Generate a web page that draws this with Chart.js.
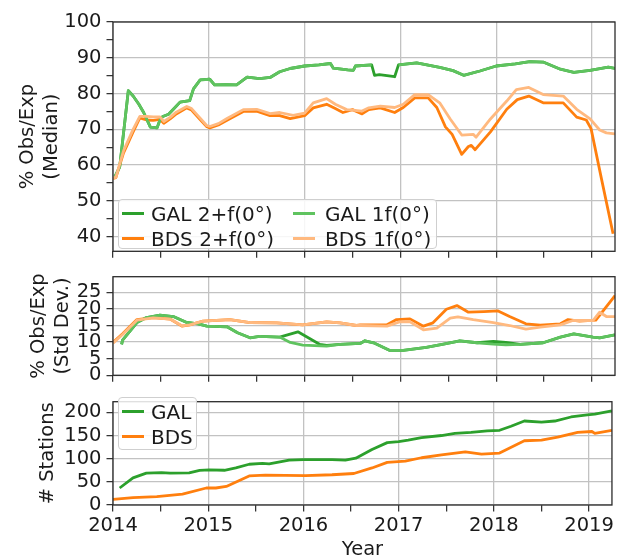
<!DOCTYPE html>
<html><head><meta charset="utf-8">
<script src="https://cdn.jsdelivr.net/npm/chart.js@4"></script>
<style>
html,body{margin:0;padding:0;background:#fff;overflow:hidden;}
#wrap{position:relative;width:617px;height:558px;overflow:hidden;font-family:'DejaVu Sans',sans-serif;color:#1a1a1a;}
canvas{position:absolute;left:0;}
.leg{position:absolute;border:1px solid #cfcfcf;border-radius:4px;background:rgba(255,255,255,0.85);box-sizing:border-box;}
.h{position:absolute;height:2.8px;width:22px;}
.t{position:absolute;font-size:20px;line-height:24px;white-space:nowrap;}
</style></head>
<body><div id="wrap">
<canvas id="c1" width="617" height="268" style="top:0px"></canvas>
<canvas id="c2" width="617" height="132" style="top:260px"></canvas>
<canvas id="c3" width="617" height="177" style="top:385px"></canvas>
<div class="leg" style="left:118px;top:199px;width:319px;height:50px;">
  <div class="h" style="left:3px;top:12px;background:#2ca02c"></div><div class="t" style="left:32px;top:1.5px">GAL 2+f(0°)</div>
  <div class="h" style="left:3px;top:37px;background:#ff7f0e"></div><div class="t" style="left:32px;top:26.5px">BDS 2+f(0°)</div>
  <div class="h" style="left:174px;top:12px;background:#5fc35f"></div><div class="t" style="left:206px;top:1.5px">GAL 1f(0°)</div>
  <div class="h" style="left:174px;top:37px;background:#ffb97f"></div><div class="t" style="left:206px;top:26.5px">BDS 1f(0°)</div>
</div>
<div class="leg" style="left:118px;top:397px;width:79px;height:53px;">
  <div class="h" style="left:3px;top:12.4px;background:#2ca02c"></div><div class="t" style="left:32px;top:1.7px">GAL</div>
  <div class="h" style="left:3px;top:37.4px;background:#ff7f0e"></div><div class="t" style="left:32px;top:26.7px">BDS</div>
</div>
</div>
<script>
// ---- tick labels ----
const yearTicks = [2014, 2015, 2016, 2017, 2018, 2019];
const medianTicks = [40, 50, 60, 70, 80, 90, 100];
const stdTicks = [0, 5, 10, 15, 20, 25];
const stationTicks = [0, 50, 100, 150, 200];

// ---- panel 1: % Obs/Exp (Median) ----
const galMedian2f = [[2014.02,56.8],[2014.07,59.5],[2014.16,80.8],[2014.21,79.3],[2014.27,77],[2014.32,74.7],[2014.39,70.6],[2014.46,70.4],[2014.49,72.6],[2014.52,73.6],[2014.58,74.2],[2014.63,75.6],[2014.70,77.6],[2014.80,78.0],[2014.84,81.3],[2014.91,83.8],[2015.01,84.0],[2015.06,82.4],[2015.18,82.5],[2015.29,82.4],[2015.40,84.6],[2015.53,84.2],[2015.64,84.5],[2015.74,86.1],[2015.85,87.0],[2016.0,87.7],[2016.15,88.0],[2016.27,88.4],[2016.30,87.1],[2016.45,86.6],[2016.51,86.5],[2016.53,87.7],[2016.70,88.0],[2016.73,85.1],[2016.78,85.3],[2016.94,84.7],[2016.98,88.0],[2017.17,88.6],[2017.41,87.3],[2017.55,86.4],[2017.66,85.1],[2017.83,86.3],[2018.0,87.7],[2018.2,88.3],[2018.35,88.9],[2018.49,88.8],[2018.67,86.8],[2018.81,85.9],[2018.98,86.5],[2019.17,87.4],[2019.24,87.0]];
const galMedian1f = [[2014.02,56.8],[2014.07,59.5],[2014.16,80.8],[2014.21,79.3],[2014.27,77],[2014.32,74.7],[2014.39,70.6],[2014.46,70.4],[2014.49,72.6],[2014.52,73.6],[2014.58,74.2],[2014.63,75.6],[2014.70,77.6],[2014.80,78.0],[2014.84,81.3],[2014.91,83.8],[2015.01,84.0],[2015.06,82.4],[2015.18,82.5],[2015.29,82.4],[2015.40,84.6],[2015.53,84.2],[2015.64,84.5],[2015.74,86.1],[2015.85,87.0],[2016.0,87.7],[2016.15,88.0],[2016.27,88.4],[2016.30,87.1],[2016.45,86.6],[2016.51,86.5],[2016.53,87.7],[2016.70,88.0],[2016.72,null],[2016.98,88.0],[2017.17,88.6],[2017.41,87.3],[2017.55,86.4],[2017.66,85.1],[2017.83,86.3],[2018.0,87.7],[2018.2,88.3],[2018.35,88.9],[2018.49,88.8],[2018.67,86.8],[2018.81,85.9],[2018.98,86.5],[2019.17,87.4],[2019.24,87.0]];
const bdsMedian2f = [[2014.0,56.3],[2014.03,56.5],[2014.11,63.4],[2014.21,69.3],[2014.28,73.2],[2014.35,72.6],[2014.42,72.5],[2014.49,72.8],[2014.53,71.7],[2014.60,73.0],[2014.66,74.3],[2014.77,76.0],[2014.82,75.4],[2014.90,73.0],[2014.98,70.7],[2015.01,70.4],[2015.10,71.2],[2015.19,72.5],[2015.36,75.0],[2015.50,75.1],[2015.64,73.8],[2015.74,73.8],[2015.85,73.0],[2016.0,73.8],[2016.09,76.0],[2016.23,77.0],[2016.32,75.8],[2016.40,74.7],[2016.50,75.5],[2016.60,74.3],[2016.67,75.5],[2016.79,76.0],[2016.94,74.7],[2017.03,76.1],[2017.15,78.8],[2017.29,78.8],[2017.38,76.1],[2017.47,70.7],[2017.54,68.6],[2017.64,63.0],[2017.71,65.2],[2017.74,65.5],[2017.78,64.3],[2017.94,69.3],[2018.11,75.6],[2018.22,78.3],[2018.34,79.3],[2018.49,77.4],[2018.70,77.4],[2018.84,73.4],[2018.94,72.6],[2018.99,70.2],[2019.10,56.0],[2019.22,40.8]];
const bdsMedian1f = [[2014.0,56.3],[2014.03,56.6],[2014.11,64.0],[2014.21,70.0],[2014.28,73.6],[2014.35,73.6],[2014.42,73.5],[2014.49,73.5],[2014.53,72.2],[2014.60,73.4],[2014.66,74.8],[2014.77,76.4],[2014.82,75.8],[2014.90,73.4],[2014.98,71.0],[2015.01,70.8],[2015.10,71.6],[2015.19,73.0],[2015.36,75.5],[2015.50,75.6],[2015.64,74.4],[2015.74,74.7],[2015.88,73.9],[2016.0,74.5],[2016.09,77.4],[2016.23,78.6],[2016.32,77.0],[2016.44,75.5],[2016.60,75.1],[2016.67,76.0],[2016.79,76.5],[2016.94,76.1],[2017.03,77.0],[2017.15,79.7],[2017.29,79.7],[2017.41,77.4],[2017.52,72.9],[2017.64,68.4],[2017.76,68.6],[2017.79,67.8],[2017.94,72.9],[2018.11,77.9],[2018.21,81.1],[2018.34,81.7],[2018.49,79.7],[2018.70,79.3],[2018.84,75.6],[2018.98,72.9],[2019.08,69.8],[2019.15,69.0],[2019.24,68.7]];

// ---- panel 2: % Obs/Exp (Std Dev.) ----
const galStd2f = [[2014.09,9.3],[2014.10,10.6],[2014.25,15.9],[2014.35,17.4],[2014.49,18.1],[2014.63,17.7],[2014.77,15.9],[2014.89,15.5],[2014.98,14.8],[2015.19,14.6],[2015.30,12.8],[2015.43,11.3],[2015.53,11.7],[2015.74,11.5],[2015.93,13.1],[2016.16,9.3],[2016.23,9.0],[2016.37,9.3],[2016.58,9.6],[2016.63,10.4],[2016.72,9.8],[2016.89,7.5],[2017.03,7.5],[2017.27,8.4],[2017.45,9.4],[2017.62,10.4],[2017.80,9.8],[2017.97,10.2],[2018.10,9.9],[2018.25,9.3],[2018.49,9.8],[2018.67,11.5],[2018.81,12.5],[2019.01,11.5],[2019.08,11.3],[2019.24,12.2]];
const galStd1f = [[2014.09,9.3],[2014.10,10.6],[2014.25,15.9],[2014.35,17.4],[2014.49,18.1],[2014.63,17.7],[2014.77,15.9],[2014.89,15.5],[2014.98,14.8],[2015.19,14.6],[2015.30,12.8],[2015.43,11.3],[2015.53,11.7],[2015.74,11.5],[2015.85,9.9],[2015.98,9.1],[2016.23,8.8],[2016.37,9.3],[2016.58,9.6],[2016.63,10.4],[2016.72,9.8],[2016.89,7.5],[2017.03,7.5],[2017.27,8.4],[2017.45,9.4],[2017.62,10.4],[2017.80,9.8],[2017.97,9.4],[2018.10,9.2],[2018.25,9.3],[2018.49,9.8],[2018.67,11.5],[2018.81,12.5],[2019.01,11.5],[2019.08,11.3],[2019.24,12.2]];
const bdsStd2f = [[2014.0,9.9],[2014.10,12.5],[2014.25,16.8],[2014.42,17.4],[2014.60,16.9],[2014.72,14.8],[2014.80,15.2],[2014.94,16.3],[2015.22,16.8],[2015.43,15.9],[2015.71,15.8],[2015.98,15.2],[2016.23,16.1],[2016.37,15.8],[2016.54,15.0],[2016.58,15.2],[2016.86,15.2],[2016.96,16.8],[2017.10,17.0],[2017.24,14.8],[2017.34,15.8],[2017.48,19.9],[2017.59,21.0],[2017.71,19.0],[2017.87,19.2],[2018.02,19.4],[2018.14,17.7],[2018.31,15.5],[2018.46,15.1],[2018.67,15.5],[2018.75,16.8],[2018.87,16.3],[2019.04,16.6],[2019.24,24.0]];
const bdsStd1f = [[2014.0,9.7],[2014.10,12.3],[2014.25,16.6],[2014.42,17.3],[2014.60,16.9],[2014.72,14.9],[2014.80,15.2],[2014.94,16.3],[2015.22,16.8],[2015.43,15.9],[2015.71,15.8],[2015.98,15.2],[2016.23,16.1],[2016.37,15.8],[2016.54,15.0],[2016.58,15.0],[2016.86,14.8],[2016.99,16.1],[2017.10,16.1],[2017.24,13.7],[2017.38,14.2],[2017.52,17.2],[2017.60,17.6],[2017.76,16.8],[2017.97,15.9],[2018.14,15.0],[2018.31,13.9],[2018.46,14.5],[2018.67,15.2],[2018.80,16.5],[2019.01,16.5],[2019.08,19.0],[2019.15,17.7],[2019.24,17.7]];

// ---- panel 3: # Stations ----
const galStations = [[2014.07,36.7],[2014.21,58.7],[2014.35,68.7],[2014.51,70],[2014.60,68.7],[2014.80,69.3],[2014.91,74.7],[2015.01,76],[2015.17,75],[2015.29,80],[2015.43,88],[2015.57,90],[2015.64,89],[2015.85,96.7],[2016.0,98],[2016.30,98],[2016.44,96.7],[2016.55,101],[2016.72,120],[2016.88,134.7],[2017.0,136.7],[2017.10,140],[2017.24,145.3],[2017.45,150],[2017.59,154.7],[2017.76,156.7],[2017.93,160],[2018.06,161.3],[2018.18,170],[2018.32,181.3],[2018.50,178.7],[2018.64,181.3],[2018.81,190],[2018.98,194.7],[2019.06,196],[2019.24,203.3]];
const bdsStations = [[2014.0,12],[2014.21,16],[2014.46,18],[2014.73,23.3],[2014.98,36.7],[2015.08,36.7],[2015.19,40],[2015.43,62.7],[2015.60,64.7],[2016.02,63.3],[2016.30,65.3],[2016.53,68],[2016.72,80],[2016.88,92],[2017.07,94.7],[2017.24,102],[2017.45,108],[2017.70,114.7],[2017.87,110],[2018.06,112],[2018.32,138.7],[2018.50,140],[2018.67,146.7],[2018.88,156.7],[2019.03,158.7],[2019.06,154.7],[2019.24,161.3]];

const FONT = "'DejaVu Sans', sans-serif";
const TXT = '#1a1a1a';
const GRID = '#c2c2c2';
const AX = '#2b2b2b';
const C_GAL2 = '#2ca02c', C_GAL1 = '#5fc35f', C_BDS2 = '#ff7f0e', C_BDS1 = '#ffb97f';

const pts = a => a.map(([x, y]) => ({x, y}));
const withMinor = (major, step) => {
  const out = [];
  major.forEach((v, i) => { out.push(v); if (i < major.length - 1) out.push(v + step / 2); });
  return out;
};

const boxPlugin = {
  id: 'box',
  afterDraw(chart) {
    const {ctx, chartArea: a} = chart;
    ctx.save();
    ctx.strokeStyle = AX; ctx.lineWidth = 1.3;
    ctx.strokeRect(a.left, a.top, a.right - a.left, a.bottom - a.top);
    ctx.restore();
  }
};

function xScale(showLabels) {
  return {
    type: 'linear', min: 2014, max: 2019.24,
    afterBuildTicks(s) { s.ticks = withMinor(yearTicks, 1).map(v => ({value: v})); },
    afterFit(s) { s.height = showLabels ? 57 : 10; },
    ticks: {display: showLabels, autoSkip: false, maxRotation: 0, minRotation: 0, padding: 3, color: TXT,
      font: {family: FONT, size: 19.5},
      callback: v => yearTicks.includes(v) ? String(v) : ''},
    grid: {color: c => (c.tick && yearTicks.includes(c.tick.value)) ? GRID : 'rgba(0,0,0,0)',
      lineWidth: 1.3, tickColor: AX, tickLength: 6.5, tickWidth: 1.2},
    border: {display: false},
    title: showLabels ? {display: true, text: 'Year', color: TXT, font: {family: FONT, size: 19.5, lineHeight: 1.23}, padding: {top: 0, bottom: 0}} : {display: false}
  };
}

function yScale(min, max, major, minorStep, titleText, titlePad) {
  return {
    type: 'linear', min, max,
    afterBuildTicks(s) {
      const vals = minorStep ? withMinor(major, minorStep) : major.slice();
      s.ticks = vals.map(v => ({value: v}));
    },
    afterFit(s) { s.width = 113; },
    ticks: {autoSkip: false, padding: 5, color: TXT, font: {family: FONT, size: 19.5},
      callback: v => major.includes(v) ? String(v) : ''},
    grid: {color: c => (c.tick && major.includes(c.tick.value)) ? GRID : 'rgba(0,0,0,0)',
      lineWidth: 1.3, tickColor: AX, tickLength: 6.5, tickWidth: 1.2},
    border: {display: false},
    title: {display: true, text: titleText, color: TXT, font: {family: FONT, size: 19.5, lineHeight: 1.23}, padding: {top: titlePad, bottom: 0}}
  };
}

function ds(label, data, color, width) {
  return {label, data: pts(data), borderColor: color, backgroundColor: color, borderWidth: width || 2.8,
    pointRadius: 0, pointHoverRadius: 0, tension: 0, fill: false, spanGaps: false, borderJoinStyle: 'round'};
}

function make(id, datasets, yOpts, showX, pad) {
  return new Chart(document.getElementById(id), {
    type: 'line',
    data: {datasets},
    options: {
      responsive: false, animation: false, devicePixelRatio: 1, events: [],
      layout: {padding: pad},
      plugins: {legend: {display: false}, tooltip: {enabled: false}},
      scales: {x: xScale(showX), y: yOpts}
    },
    plugins: [boxPlugin]
  });
}

// drawing order: first dataset is drawn on top
make('c1', [
  ds('BDS 1f(0°)', bdsMedian1f, C_BDS1),
  ds('GAL 1f(0°)', galMedian1f, C_GAL1),
  ds('BDS 2+f(0°)', bdsMedian2f, C_BDS2),
  ds('GAL 2+f(0°)', galMedian2f, C_GAL2)
], yScale(35.9, 100, medianTicks, 10, ['% Obs/Exp', '(Median)'], 16), false, {top: 22, left: 0, right: 2, bottom: 0});

make('c2', [
  ds('BDS 1f(0°)', bdsStd1f, C_BDS1),
  ds('GAL 1f(0°)', galStd1f, C_GAL1),
  ds('BDS 2+f(0°)', bdsStd2f, C_BDS2),
  ds('GAL 2+f(0°)', galStd2f, C_GAL2)
], yScale(0, 29.7, stdTicks, 0, ['% Obs/Exp', '(Std Dev.)'], 27), false, {top: 9.7, left: 0, right: 2, bottom: 0.7});

make('c3', [
  ds('GAL', galStations, C_GAL2),
  ds('BDS', bdsStations, C_BDS2)
], yScale(0, 223, stationTicks, 0, '# Stations', 35.5), true, {top: 8.3, left: 0, right: 2, bottom: 0});
</script>
</body></html>
